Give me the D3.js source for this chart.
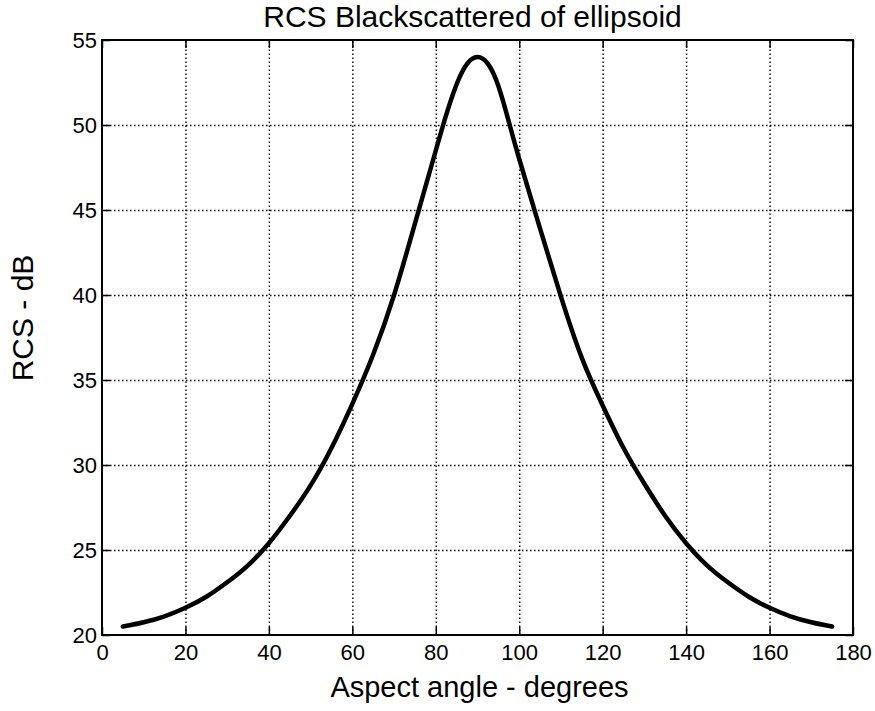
<!DOCTYPE html>
<html>
<head>
<meta charset="utf-8">
<script src="https://cdn.jsdelivr.net/npm/d3@7"></script>
<style>
  body { margin: 0; background: #fff; }
  svg { display: block; }
  text { font-family: "Liberation Sans", Arial, sans-serif; fill: #000; }
</style>
</head>
<body>
<svg id="chart" width="875" height="711"></svg>
<script>
// aspect angle (deg) and backscattered RCS (dB)
const angles = [5, 10, 15, 20, 25, 30, 35, 40, 45, 50, 55, 60, 65, 70, 75, 80, 82.5, 85, 87.5, 90,
                92.5, 95, 97.5, 100, 105, 110, 115, 120, 125, 130, 135, 140, 145, 150, 155, 160, 165, 170, 175];
const rcsValues = [20.5, 20.75, 21.1, 21.6, 22.25, 23.1, 24.1, 25.4, 27.0, 28.8, 31.0, 33.6, 36.5, 40.0, 44.2, 48.5, 50.6, 52.4, 53.6, 54.0,
                   53.6, 52.3, 50.2, 48.0, 43.9, 39.9, 36.3, 33.5, 31.0, 28.9, 27.0, 25.4, 24.1, 23.1, 22.25, 21.6, 21.1, 20.75, 20.5];
const xTicks = [0, 20, 40, 60, 80, 100, 120, 140, 160, 180];
const yTicks = [20, 25, 30, 35, 40, 45, 50, 55];

const titleText = "RCS Blackscattered of ellipsoid";
const xLabel = "Aspect angle - degrees";
const yLabel = "RCS - dB";

const plotLeft = 102, plotRight = 853, plotTop = 40, plotBottom = 635;

const svg = d3.select("#chart");

const x = d3.scaleLinear().domain([0, 180]).range([plotLeft, plotRight]);
const y = d3.scaleLinear().domain([20, 55]).range([plotBottom, plotTop]);

// dotted grid
svg.append("g")
  .attr("class", "grid")
  .attr("transform", "translate(0," + plotBottom + ")")
  .call(d3.axisBottom(x).tickValues(xTicks.slice(1, -1)).tickSize(-(plotBottom - plotTop)).tickFormat(""))
  .call(g => g.select(".domain").remove());

svg.append("g")
  .attr("class", "grid")
  .attr("transform", "translate(" + plotLeft + ",0)")
  .call(d3.axisLeft(y).tickValues(yTicks.slice(1, -1)).tickSize(-(plotRight - plotLeft)).tickFormat(""))
  .call(g => g.select(".domain").remove());

svg.selectAll(".grid line")
  .attr("stroke", "#000")
  .attr("stroke-width", 1.4)
  .attr("stroke-dasharray", "1.5,2.5");

// axes, ticks pointing inward
const xAxis = svg.append("g")
  .attr("class", "axis")
  .attr("transform", "translate(0," + plotBottom + ")")
  .call(d3.axisBottom(x).tickValues(xTicks).tickSizeInner(-8).tickSizeOuter(0).tickPadding(9));

svg.append("g")
  .attr("class", "axis")
  .attr("transform", "translate(0," + plotTop + ")")
  .call(d3.axisTop(x).tickValues(xTicks).tickSizeInner(-8).tickSizeOuter(0).tickFormat(""));

const yAxis = svg.append("g")
  .attr("class", "axis")
  .attr("transform", "translate(" + plotLeft + ",0)")
  .call(d3.axisLeft(y).tickValues(yTicks).tickSizeInner(-8).tickSizeOuter(0).tickPadding(5));

svg.append("g")
  .attr("class", "axis")
  .attr("transform", "translate(" + plotRight + ",0)")
  .call(d3.axisRight(y).tickValues(yTicks).tickSizeInner(-8).tickSizeOuter(0).tickFormat(""));

svg.selectAll(".axis .domain").remove();
svg.selectAll(".axis .tick line")
  .attr("stroke", "#000")
  .attr("stroke-width", 1.5);

xAxis.selectAll("text").style("font-size", "22px").attr("fill", "#000");
yAxis.selectAll("text").style("font-size", "22px").attr("fill", "#000");

// plot box
svg.append("rect")
  .attr("x", plotLeft)
  .attr("y", plotTop)
  .attr("width", plotRight - plotLeft)
  .attr("height", plotBottom - plotTop)
  .attr("fill", "none")
  .attr("stroke", "#000")
  .attr("stroke-width", 2);

// RCS curve
const line = d3.line()
  .x((d, i) => x(angles[i]))
  .y(d => y(d))
  .curve(d3.curveNatural);

svg.append("path")
  .datum(rcsValues)
  .attr("d", line)
  .attr("fill", "none")
  .attr("stroke", "#000")
  .attr("stroke-width", 4.5)
  .attr("stroke-linejoin", "round")
  .attr("stroke-linecap", "round");

// titles
svg.append("text")
  .attr("x", (plotLeft + plotRight) / 2 - 5)
  .attr("y", 27)
  .attr("text-anchor", "middle")
  .style("font-size", "30px")
  .text(titleText);

svg.append("text")
  .attr("x", (plotLeft + plotRight) / 2 + 2)
  .attr("y", 697)
  .attr("text-anchor", "middle")
  .style("font-size", "29px")
  .text(xLabel);

svg.append("text")
  .attr("transform", "translate(33,318) rotate(-90)")
  .attr("text-anchor", "middle")
  .style("font-size", "30px")
  .text(yLabel);
</script>
</body>
</html>
